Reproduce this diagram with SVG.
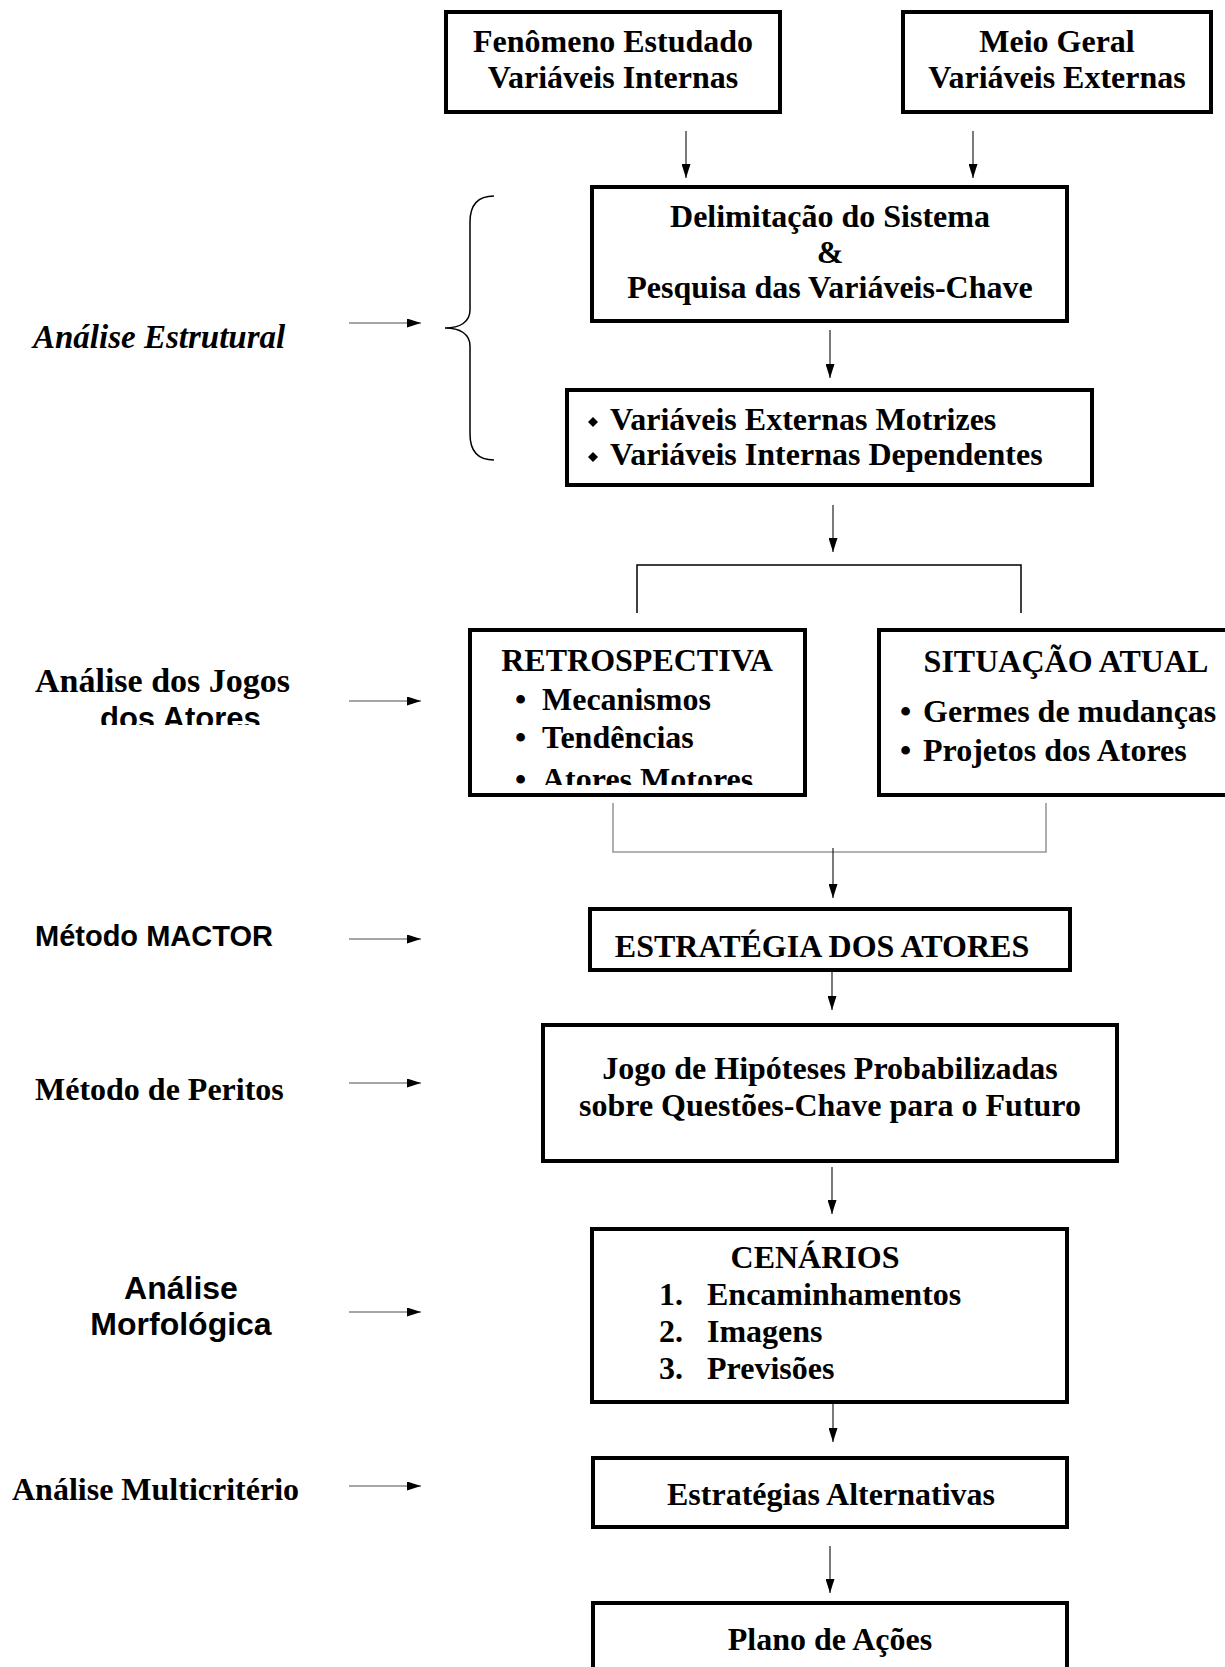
<svg xmlns="http://www.w3.org/2000/svg" width="1225" height="1667" viewBox="0 0 1225 1667">
<defs>
<marker id="ah" markerUnits="userSpaceOnUse" markerWidth="14" markerHeight="9" refX="14" refY="4.5" orient="auto">
<path d="M0,0 L14,4.5 L0,9 z" fill="#000"/>
</marker>
<clipPath id="clipRetro"><rect x="470" y="630" width="335" height="155"/></clipPath>
<clipPath id="clipJogos"><rect x="0" y="695" width="440" height="30"/></clipPath>
</defs>
<style>
.box{fill:#fff;stroke:#000;stroke-width:4}
.t{font-family:"Liberation Serif","Times New Roman",serif;font-weight:bold;font-size:32px;fill:#000}
.c{text-anchor:middle}
.s{font-family:"Liberation Sans",Arial,sans-serif;font-weight:bold;fill:#000}
.v{stroke:#222;stroke-width:1.2;fill:none}
.h{stroke:#888;stroke-width:1.6;fill:none}
.br{stroke:#000;stroke-width:1.5;fill:none}
.g{stroke:#999;stroke-width:1.6;fill:none}
</style>
<rect width="1225" height="1667" fill="#fff"/>

<g id="connectors">
<line class="v" x1="686" y1="131" x2="686" y2="178" marker-end="url(#ah)"/>
<line class="v" x1="973" y1="131" x2="973" y2="178" marker-end="url(#ah)"/>
<line class="v" x1="830" y1="330" x2="830" y2="378" marker-end="url(#ah)"/>
<line class="v" x1="833" y1="505" x2="833" y2="552" marker-end="url(#ah)"/>
<path class="br" d="M637,613 V565 H1021 V613"/>
<path class="g" d="M613,803 V852 H1046 V803"/>
<line class="v" x1="833" y1="848" x2="833" y2="898" marker-end="url(#ah)"/>
<line class="v" x1="832" y1="972" x2="832" y2="1010" marker-end="url(#ah)"/>
<line class="v" x1="832" y1="1167" x2="832" y2="1214" marker-end="url(#ah)"/>
<line class="v" x1="833" y1="1396" x2="833" y2="1442" marker-end="url(#ah)"/>
<line class="v" x1="830" y1="1546" x2="830" y2="1593" marker-end="url(#ah)"/>
<line class="h" x1="349" y1="323" x2="421" y2="323" marker-end="url(#ah)"/>
<line class="h" x1="349" y1="701" x2="421" y2="701" marker-end="url(#ah)"/>
<line class="h" x1="349" y1="939" x2="421" y2="939" marker-end="url(#ah)"/>
<line class="h" x1="349" y1="1083" x2="421" y2="1083" marker-end="url(#ah)"/>
<line class="h" x1="349" y1="1312" x2="421" y2="1312" marker-end="url(#ah)"/>
<line class="h" x1="349" y1="1486" x2="421" y2="1486" marker-end="url(#ah)"/>
<path class="br" d="M494,196 C478,196 470,205 470,222 V310 C470,322 460,328 445,328 C460,328 470,334 470,346 V434 C470,451 478,460 494,460"/>
</g>

<g id="label-estrutural">
<text x="33" y="348" style="font-family:'Liberation Serif','Times New Roman',serif;font-weight:bold;font-style:italic;font-size:33px">Análise Estrutural</text>
</g>
<g id="label-jogos">
<text x="35" y="692" class="t" style="font-size:34px">Análise dos Jogos</text>
<text x="100" y="729" class="s" style="font-size:31px" clip-path="url(#clipJogos)">dos Atores</text>
</g>
<g id="label-mactor">
<text x="35" y="946" class="s" style="font-size:29px">Método MACTOR</text>
</g>
<g id="label-peritos">
<text x="35" y="1100" class="t">Método de Peritos</text>
</g>
<g id="label-morfologica">
<text x="181" y="1299" class="s c" style="font-size:32px">Análise</text>
<text x="181" y="1335" class="s c" style="font-size:32px">Morfológica</text>
</g>
<g id="label-multicriterio">
<text x="12" y="1500" class="t">Análise Multicritério</text>
</g>

<g id="node-fenomeno">
<rect class="box" x="446" y="12" width="334" height="100"/>
<text class="t c" x="613" y="52">Fenômeno Estudado</text>
<text class="t c" x="613" y="88">Variáveis Internas</text>
</g>
<g id="node-meio">
<rect class="box" x="903" y="12" width="308" height="100"/>
<text class="t c" x="1057" y="52">Meio Geral</text>
<text class="t c" x="1057" y="88">Variáveis Externas</text>
</g>
<g id="node-delimitacao">
<rect class="box" x="592" y="187" width="475" height="134"/>
<text class="t c" x="830" y="227">Delimitação do Sistema</text>
<text class="t c" x="830" y="263">&amp;</text>
<text class="t c" x="830" y="298">Pesquisa das Variáveis-Chave</text>
</g>
<g id="node-variaveis">
<rect class="box" x="567" y="390" width="525" height="95"/>
<polygon points="593,417 598,422 593,427 588,422" fill="#000"/>
<polygon points="593,452 598,457 593,462 588,457" fill="#000"/>
<text class="t" x="610" y="430">Variáveis Externas Motrizes</text>
<text class="t" x="610" y="465">Variáveis Internas Dependentes</text>
</g>
<g id="node-retrospectiva">
<rect class="box" x="470" y="630" width="335" height="165"/>
<text class="t c" x="637" y="671">RETROSPECTIVA</text>
<text class="t" x="515" y="710">•</text><text class="t" x="542" y="710">Mecanismos</text>
<text class="t" x="515" y="748">•</text><text class="t" x="542" y="748">Tendências</text>
<g clip-path="url(#clipRetro)">
<text class="t" x="515" y="790">•</text><text class="t" x="542" y="790">Atores Motores</text>
</g>
</g>
<g id="node-situacao">
<rect class="box" x="879" y="630" width="400" height="165"/>
<text class="t c" x="1066" y="672">SITUAÇÃO ATUAL</text>
<text class="t" x="900" y="722">•</text><text class="t" x="923" y="722">Germes de mudanças</text>
<text class="t" x="900" y="761">•</text><text class="t" x="923" y="761">Projetos dos Atores</text>
</g>
<g id="node-estrategia-atores">
<rect class="box" x="590" y="909" width="480" height="61"/>
<text class="t c" x="822" y="957">ESTRATÉGIA DOS ATORES</text>
</g>
<g id="node-jogo">
<rect class="box" x="543" y="1025" width="574" height="136"/>
<text class="t c" x="830" y="1079">Jogo de Hipóteses Probabilizadas</text>
<text class="t c" x="830" y="1116">sobre Questões-Chave para o Futuro</text>
</g>
<g id="node-cenarios">
<rect class="box" x="592" y="1229" width="475" height="173"/>
<text class="t c" x="815" y="1268">CENÁRIOS</text>
<text class="t" x="659" y="1305">1.</text><text class="t" x="707" y="1305">Encaminhamentos</text>
<text class="t" x="659" y="1342">2.</text><text class="t" x="707" y="1342">Imagens</text>
<text class="t" x="659" y="1379">3.</text><text class="t" x="707" y="1379">Previsões</text>
</g>
<g id="node-estrategias-alt">
<rect class="box" x="593" y="1458" width="474" height="69"/>
<text class="t c" x="831" y="1505">Estratégias Alternativas</text>
</g>
<g id="node-plano">
<rect class="box" x="593" y="1603" width="474" height="100"/>
<text class="t c" x="830" y="1650">Plano de Ações</text>
</g>
</svg>
